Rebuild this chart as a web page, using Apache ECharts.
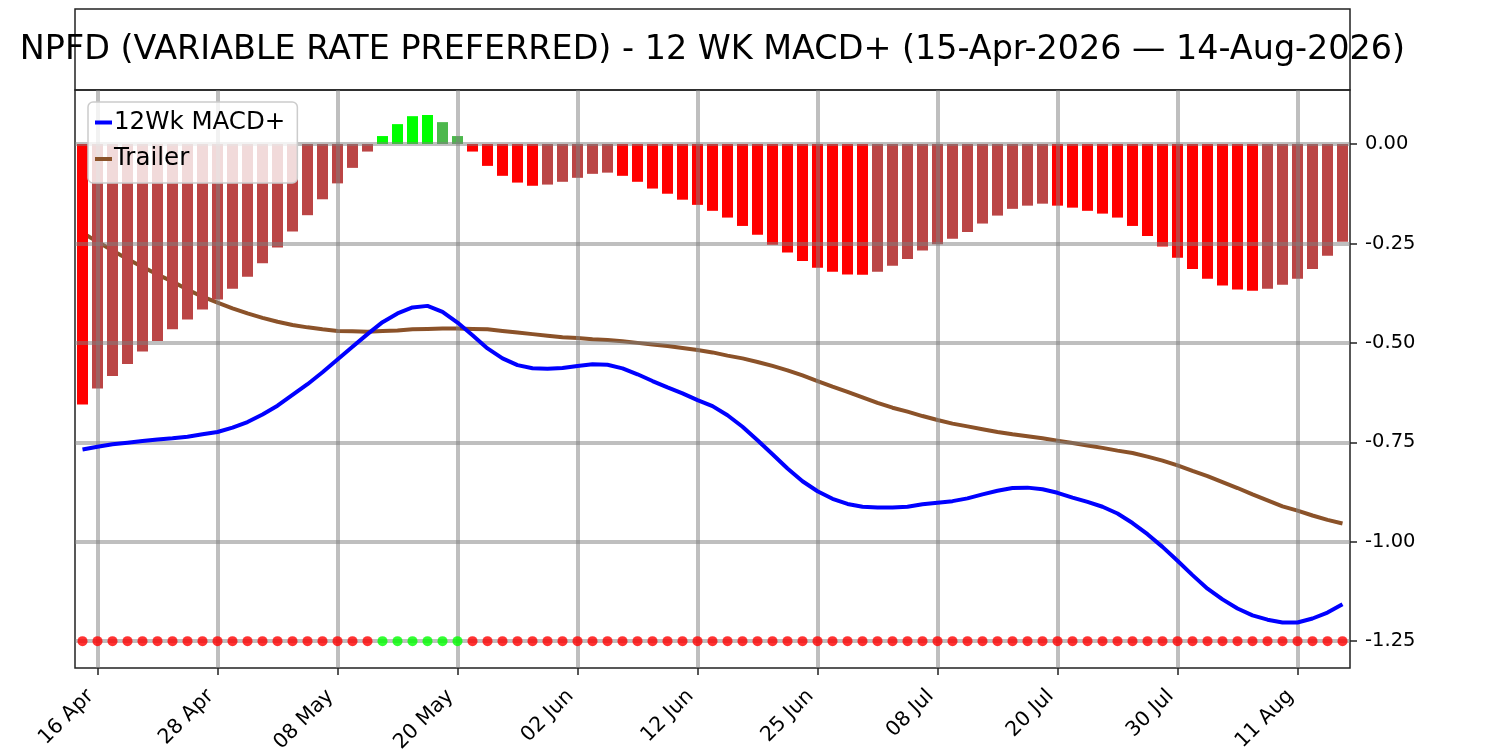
<!DOCTYPE html>
<html>
<head>
<meta charset="utf-8">
<title>NPFD 12 WK MACD+</title>
<script src="https://cdn.jsdelivr.net/npm/echarts@6/dist/echarts.min.js"></script>
<style>
  html, body { margin: 0; padding: 0; background: #fff; }
  #chart { width: 1500px; height: 750px; }
</style>
</head>
<body>
<div id="chart"></div>
<script>
// trading days shown on the x axis (US holidays skipped)
var tradeDays = [
    '15 Apr','16 Apr','17 Apr','20 Apr','21 Apr','22 Apr','23 Apr','24 Apr','27 Apr','28 Apr','29 Apr','30 Apr',
    '01 May','04 May','05 May','06 May','07 May','08 May','11 May','12 May','13 May','14 May','15 May','18 May',
    '19 May','20 May','21 May','22 May','26 May','27 May','28 May','29 May',
    '01 Jun','02 Jun','03 Jun','04 Jun','05 Jun','08 Jun','09 Jun','10 Jun','11 Jun','12 Jun','15 Jun','16 Jun',
    '17 Jun','18 Jun','22 Jun','23 Jun','24 Jun','25 Jun','26 Jun','29 Jun','30 Jun',
    '01 Jul','02 Jul','06 Jul','07 Jul','08 Jul','09 Jul','10 Jul','13 Jul','14 Jul','15 Jul','16 Jul','17 Jul',
    '20 Jul','21 Jul','22 Jul','23 Jul','24 Jul','27 Jul','28 Jul','29 Jul','30 Jul','31 Jul',
    '03 Aug','04 Aug','05 Aug','06 Aug','07 Aug','10 Aug','11 Aug','12 Aug','13 Aug','14 Aug'
];

var macdPlus = [
    -0.768, -0.761, -0.755, -0.751, -0.747, -0.743, -0.740, -0.736, -0.730, -0.724,
    -0.713, -0.699, -0.680, -0.658, -0.631, -0.604, -0.574, -0.542, -0.510, -0.478,
    -0.448, -0.426, -0.411, -0.407, -0.422, -0.449, -0.481, -0.514, -0.539, -0.556,
    -0.564, -0.565, -0.563, -0.558, -0.554, -0.555, -0.564, -0.579, -0.596, -0.612,
    -0.627, -0.644, -0.659, -0.682, -0.711, -0.745, -0.780, -0.816, -0.848, -0.873,
    -0.892, -0.905, -0.912, -0.914, -0.914, -0.912, -0.906, -0.902, -0.898, -0.891,
    -0.881, -0.872, -0.865, -0.864, -0.868, -0.877, -0.889, -0.900, -0.912, -0.929,
    -0.953, -0.981, -1.013, -1.048, -1.084, -1.118, -1.145, -1.168, -1.185, -1.196,
    -1.203, -1.203, -1.193, -1.178, -1.157
];

var trailer = [
    -0.223, -0.246, -0.268, -0.289, -0.309, -0.328, -0.346, -0.366, -0.384, -0.399,
    -0.413, -0.426, -0.437, -0.447, -0.455, -0.461, -0.466, -0.470, -0.471, -0.472,
    -0.470, -0.469, -0.466, -0.465, -0.464, -0.464, -0.465, -0.466, -0.470, -0.474,
    -0.478, -0.482, -0.486, -0.488, -0.491, -0.493, -0.496, -0.500, -0.504, -0.508,
    -0.513, -0.518, -0.524, -0.532, -0.539, -0.548, -0.558, -0.569, -0.582, -0.596,
    -0.610, -0.623, -0.637, -0.651, -0.663, -0.673, -0.684, -0.694, -0.703, -0.710,
    -0.717, -0.724, -0.730, -0.735, -0.740, -0.746, -0.752, -0.758, -0.764, -0.771,
    -0.777, -0.786, -0.796, -0.808, -0.822, -0.835, -0.850, -0.865, -0.881, -0.896,
    -0.911, -0.922, -0.934, -0.945, -0.954
];

var histogram = [
    -0.655, -0.615, -0.583, -0.553, -0.522, -0.495, -0.466, -0.441, -0.416, -0.391,
    -0.364, -0.334, -0.300, -0.260, -0.220, -0.179, -0.139, -0.099, -0.060, -0.019,
     0.020,  0.050,  0.070,  0.073,  0.055,  0.020, -0.019, -0.055, -0.080, -0.097,
    -0.105, -0.102, -0.095, -0.085, -0.075, -0.072, -0.080, -0.095, -0.112, -0.125,
    -0.140, -0.153, -0.168, -0.185, -0.206, -0.228, -0.253, -0.273, -0.294, -0.311,
    -0.321, -0.328, -0.329, -0.321, -0.306, -0.289, -0.268, -0.252, -0.238, -0.221,
    -0.200, -0.180, -0.163, -0.155, -0.150, -0.155, -0.160, -0.168, -0.175, -0.185,
    -0.206, -0.231, -0.258, -0.286, -0.314, -0.339, -0.356, -0.366, -0.369, -0.364,
    -0.354, -0.339, -0.314, -0.281, -0.246
];

var yTicks = [0, -0.25, -0.5, -0.75, -1, -1.25];
var signalLevel = -1.25;
var titleText = 'NPFD (VARIABLE RATE PREFERRED) - 12 WK MACD+ (15-Apr-2026 \u2014 14-Aug-2026)';

var FONT = 'DejaVu Sans';
var GRID_COLOR = 'rgba(128,128,128,0.5)';
var SPINE = '#222';

function everyEighth(idx) {
    return idx % 8 === 1;
}

// bright when the histogram moves away from zero, dull when it comes back
function barColor(i) {
    var v = histogram[i];
    var prev = i > 0 ? histogram[i - 1] : null;
    if (v >= 0) {
        return (prev === null || v > prev) ? '#00ff00' : '#4cb84c';
    }
    return (prev === null || v < prev) ? '#ff0000' : '#bb4545';
}

var barData = histogram.map(function (v, i) {
    return { value: v, itemStyle: { color: barColor(i) } };
});

var dotData = histogram.map(function (v) {
    return { value: signalLevel, itemStyle: { color: v >= 0 ? '#00ff00' : '#ff0000' } };
});

var chart = echarts.init(document.getElementById('chart'), null, { renderer: 'canvas' });

chart.setOption({
    animation: false,
    backgroundColor: '#fff',
    textStyle: { fontFamily: FONT },
    graphic: [
        {
            type: 'rect',
            shape: { x: 75, y: 9, width: 1275, height: 81 },
            style: { fill: 'none', stroke: SPINE, lineWidth: 1.5 }
        },
        {
            type: 'text',
            x: 712.5,
            y: 50,
            style: {
                text: titleText,
                fill: '#000',
                font: '33.4px "DejaVu Sans"',
                textAlign: 'center',
                textVerticalAlign: 'middle'
            }
        }
    ],
    legend: {
        data: ['12Wk MACD+', 'Trailer'],
        orient: 'vertical',
        left: 88,
        top: 102,
        icon: 'rect',
        itemWidth: 17,
        itemHeight: 4,
        itemGap: 11.5,
        padding: [8, 12, 11.5, 7],
        backgroundColor: 'rgba(255,255,255,0.8)',
        borderColor: '#cccccc',
        borderWidth: 1.5,
        borderRadius: 5,
        textStyle: { fontSize: 24.5, fontFamily: FONT, color: '#000', padding: [0, 0, 0, -3] }
    },
    grid: {
        left: 75,
        right: 150,
        top: 90,
        bottom: 82,
        outerBoundsMode: 'none',
        containLabel: false,
        show: true,
        borderColor: SPINE,
        borderWidth: 1.5,
        backgroundColor: 'transparent'
    },
    xAxis: {
        type: 'category',
        data: tradeDays,
        boundaryGap: true,
        z: 3,
        axisLine: { show: false, onZero: false },
        axisTick: {
            show: true,
            alignWithLabel: true,
            interval: everyEighth,
            length: 7,
            lineStyle: { color: SPINE, width: 1.5 }
        },
        axisLabel: {
            interval: everyEighth,
            rotate: 45,
            margin: 18,
            padding: [0, 10, 0, 0],
            fontSize: 20.5,
            fontFamily: FONT,
            color: '#000'
        },
        splitLine: {
            show: true,
            interval: everyEighth,
            alignWithLabel: true,
            lineStyle: { color: GRID_COLOR, width: 4 }
        }
    },
    yAxis: {
        type: 'value',
        position: 'right',
        min: -1.3175,
        max: 0.1358,
        z: 3,
        axisLine: { show: false },
        axisTick: {
            show: true,
            customValues: yTicks,
            length: 7,
            lineStyle: { color: SPINE, width: 1.5 }
        },
        axisLabel: {
            customValues: yTicks,
            margin: 15,
            fontSize: 19.5,
            fontFamily: FONT,
            color: '#000',
            formatter: function (v) { return v.toFixed(2); }
        },
        splitLine: {
            show: true,
            lineStyle: { color: GRID_COLOR, width: 4 }
        }
    },
    series: [
        {
            name: 'Trailer',
            type: 'line',
            data: trailer,
            z: 1,
            showSymbol: false,
            color: '#8b5229',
            lineStyle: { color: '#8b5229', width: 4 }
        },
        {
            name: 'Histogram',
            type: 'bar',
            data: barData,
            z: 2,
            barWidth: 11
        },
        {
            name: '12Wk MACD+',
            type: 'line',
            data: macdPlus,
            z: 4,
            showSymbol: false,
            color: '#0000ff',
            lineStyle: { color: '#0000ff', width: 4 }
        },
        {
            name: 'Signal',
            type: 'scatter',
            data: dotData,
            z: 5,
            symbolSize: 10
        }
    ]
});
</script>
</body>
</html>
